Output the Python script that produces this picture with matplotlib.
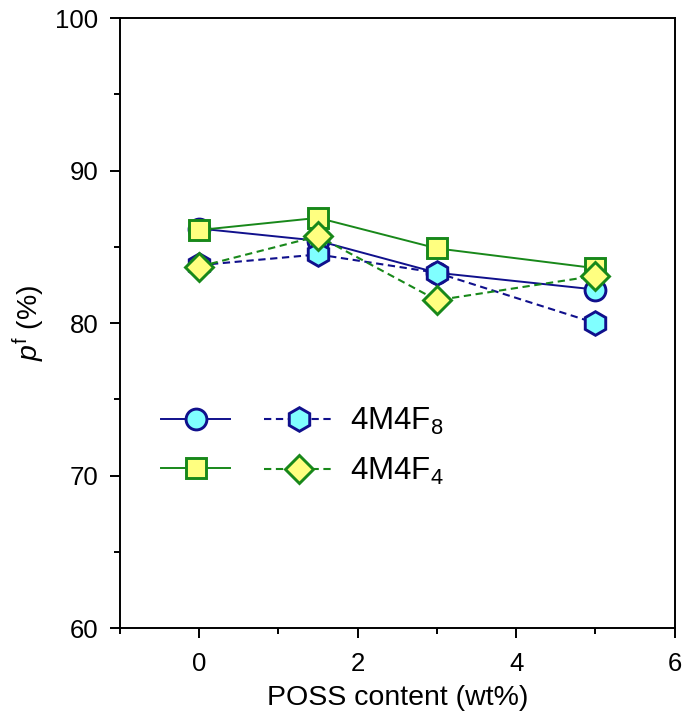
import matplotlib
matplotlib.use('Agg')
import matplotlib.pyplot as plt
from matplotlib.ticker import MultipleLocator

plt.rcParams['font.family'] = ['Liberation Sans', 'DejaVu Sans']
plt.rcParams['mathtext.fontset'] = 'custom'
plt.rcParams['mathtext.rm'] = 'Liberation Sans'
plt.rcParams['mathtext.it'] = 'Liberation Sans:italic'

# 데이터
poss = [0, 1.5, 3, 5]
circle_vals = [86.2, 85.4, 83.3, 82.2]   # 실선, 4M4F8
square_vals = [86.1, 86.9, 84.9, 83.6]   # 실선, 4M4F4
hex_vals = [83.8, 84.5, 83.3, 80.0]      # 점선, 4M4F8
diamond_vals = [83.7, 85.7, 81.5, 83.1]  # 점선, 4M4F4
labels = ['4M4F$_8$', '4M4F$_4$']

navy = '#10108c'
green = '#18881a'
cyan = '#80ffff'
yellow = '#ffff80'

fig = plt.figure(figsize=(6.85, 7.22), dpi=100)
ax = fig.add_axes([0.175, 0.130, 0.810, 0.845])

dash = (0, (3.5, 2.2))
l1, = ax.plot(poss, circle_vals, '-', color=navy, lw=1.4, marker='o', ms=15,
              mfc=cyan, mec=navy, mew=2.1)
l2, = ax.plot(poss, square_vals, '-', color=green, lw=1.4, marker='s', ms=14.5,
              mfc=yellow, mec=green, mew=2.1)
l3, = ax.plot(poss, hex_vals, linestyle=dash, color=navy, lw=1.5, marker='h', ms=17,
              mfc=cyan, mec=navy, mew=2.1)
l4, = ax.plot(poss, diamond_vals, linestyle=dash, color=green, lw=1.5, marker='D', ms=14.5,
              mfc=yellow, mec=green, mew=2.1)

ax.set_xlim(-1, 6)
ax.set_ylim(60, 100)
ax.xaxis.set_major_locator(MultipleLocator(2))
ax.xaxis.set_minor_locator(MultipleLocator(1))
ax.yaxis.set_major_locator(MultipleLocator(10))
ax.yaxis.set_minor_locator(MultipleLocator(5))
ax.tick_params(which='both', direction='out', width=1.4, labelsize=18.5,
               top=False, right=False)
ax.tick_params(which='major', length=7.5, pad=8)
ax.tick_params(axis='x', which='major', pad=10)
ax.tick_params(which='minor', length=4)
for s in ax.spines.values():
    s.set_linewidth(1.4)

ax.set_xlabel('POSS content (wt%)', fontsize=20.5, labelpad=6)
ax.set_ylabel(r'$p^{\mathrm{f}}$ (%)', fontsize=20.5, labelpad=6)

leg = ax.legend([l1, l2, l3, l4], ['', '', labels[0], labels[1]], ncol=2,
                loc='upper left', bbox_to_anchor=(0.035, 0.40), frameon=False,
                fontsize=22.5, handlelength=2.2, handletextpad=0.55,
                columnspacing=0.55, labelspacing=0.6, borderpad=0.2)

fig.savefig('out.png', dpi=100)
